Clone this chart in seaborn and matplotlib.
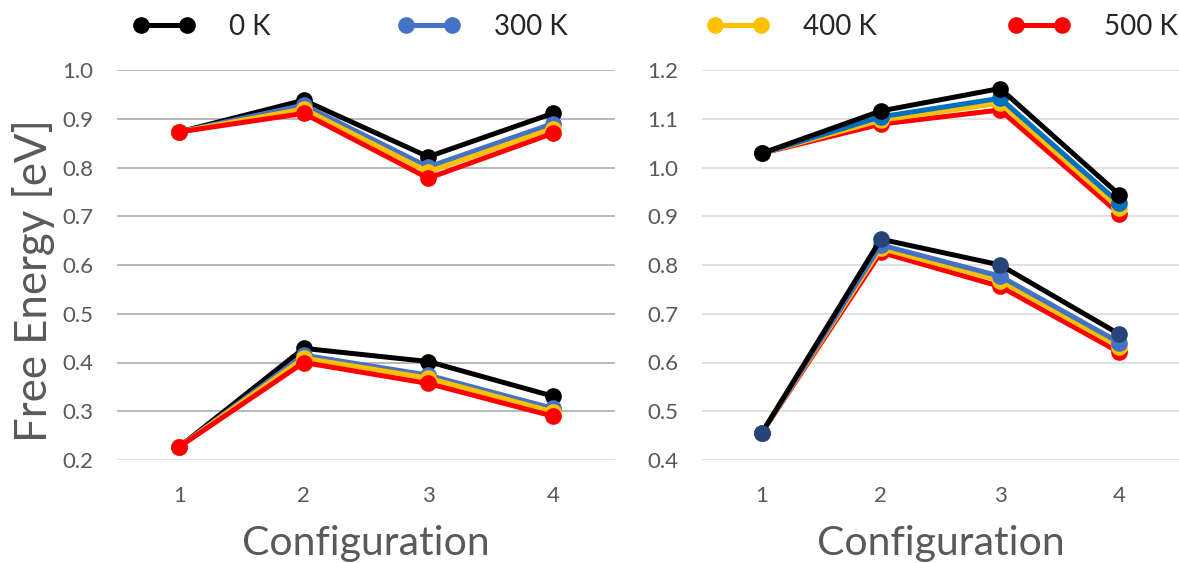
import matplotlib
matplotlib.use("Agg")
import matplotlib.pyplot as plt
import seaborn as sns

# ---- data -------------------------------------------------------------
configs = [1, 2, 3, 4]
temps = ["0 K", "300 K", "400 K", "500 K"]

# left panel, upper branch
lu_0 = [0.873, 0.938, 0.822, 0.911]
lu_300 = [0.873, 0.928, 0.801, 0.890]
lu_400 = [0.873, 0.920, 0.791, 0.880]
lu_500 = [0.873, 0.911, 0.778, 0.870]

# left panel, lower branch
ll_0 = [0.227, 0.429, 0.402, 0.331]
ll_300 = [0.227, 0.415, 0.374, 0.306]
ll_400 = [0.227, 0.409, 0.368, 0.299]
ll_500 = [0.227, 0.400, 0.357, 0.290]

# right panel, upper branch
ru_0 = [1.029, 1.116, 1.162, 0.944]
ru_300 = [1.029, 1.104, 1.142, 0.927]
ru_400 = [1.029, 1.097, 1.132, 0.916]
ru_500 = [1.029, 1.089, 1.118, 0.905]

# right panel, lower branch
rl_0 = [0.455, 0.853, 0.800, 0.658]
rl_300 = [0.455, 0.841, 0.777, 0.641]
rl_400 = [0.455, 0.834, 0.768, 0.632]
rl_500 = [0.455, 0.826, 0.756, 0.621]

left_ticks = [0.2, 0.3, 0.4, 0.5, 0.6, 0.7, 0.8, 0.9, 1.0]
right_ticks = [0.4, 0.5, 0.6, 0.7, 0.8, 0.9, 1.0, 1.1, 1.2]

# ---- style ------------------------------------------------------------
sns.set_theme(style="white")
plt.rcParams["font.family"] = ["Lato", "DejaVu Sans"]

BLACK, BLUE, BLUE2, GOLD, RED, NAVY = ("#000000", "#4472C4", "#0070C0",
                                       "#FFC000", "#FF0000", "#264478")
TICK_GREY = "#595959"
LW, MS = 3.6, 12

fig = plt.figure(figsize=(11.79, 5.63), dpi=100)
ax_l = fig.add_axes([117 / 1179, 103 / 563, 498 / 1179, 390 / 563])
ax_r = fig.add_axes([702 / 1179, 103 / 563, 477 / 1179, 390 / 563])


def draw(ax, values, color, face=None):
    sns.lineplot(x=configs, y=values, ax=ax, color=color, marker="o",
                 linewidth=LW, markersize=MS, markeredgewidth=0,
                 markerfacecolor=face or color, legend=False)
    return ax.lines[-1]


# left: coldest drawn first, hottest on top
handles = []
for vals, col in zip([lu_0, lu_300, lu_400, lu_500], [BLACK, BLUE, GOLD, RED]):
    handles.append(draw(ax_l, vals, col))
for vals, col in zip([ll_0, ll_300, ll_400, ll_500], [BLACK, BLUE, GOLD, RED]):
    draw(ax_l, vals, col)

# right: hottest drawn first, 0 K on top
for vals, col in zip([ru_500, ru_400, ru_300, ru_0], [RED, GOLD, BLUE2, BLACK]):
    draw(ax_r, vals, col)
for vals, col, face in zip([rl_500, rl_400, rl_300, rl_0],
                           [RED, GOLD, BLUE, BLACK], [None, None, None, NAVY]):
    draw(ax_r, vals, col, face)

for ax, ticks, grid_col in [(ax_l, left_ticks, "#A6A6A6"),
                            (ax_r, right_ticks, "#D9D9D9")]:
    ax.set_xlim(0.5, 4.5)
    ax.set_ylim(ticks[0], ticks[-1])
    ax.set_xticks(configs)
    ax.set_xticklabels([str(c) for c in configs])
    ax.set_yticks(ticks)
    ax.set_yticklabels([f"{t:.1f}" for t in ticks])
    ax.tick_params(axis="both", length=0, labelsize=16, labelcolor=TICK_GREY)
    ax.tick_params(axis="x", pad=19)
    ax.tick_params(axis="y", pad=17)
    for s in ax.spines.values():
        s.set_visible(False)
    ax.yaxis.grid(True, color=grid_col, linewidth=1.1)
    ax.xaxis.grid(False)
    ax.set_axisbelow(True)
    ax.set_xlabel("Configuration", fontsize=29.5, color=TICK_GREY)
    ax.xaxis.set_label_coords(0.5, -0.215)
    ax.xaxis.label.set_va("center")
    ax.set_ylabel("")

ax_l.get_ygridlines()[0].set_color("#D9D9D9")

ax_l.set_ylabel("Free Energy [eV]", fontsize=31.5, color=TICK_GREY)
ax_l.yaxis.set_label_coords(-(117 - 33) / 498, 0.46)
ax_l.yaxis.label.set_va("center")

# legend row across the top
legend_x = [133, 398, 707, 1008]
for h, lab, x in zip(handles, temps, legend_x):
    leg = fig.legend(handles=[h], labels=[lab], loc="center left",
                     bbox_to_anchor=(x / 1179, 1 - 27 / 563), frameon=False,
                     numpoints=2, handlelength=2.25, handletextpad=1.2,
                     borderpad=0, borderaxespad=0, fontsize=20)

fig.savefig("out.png", dpi=100)
